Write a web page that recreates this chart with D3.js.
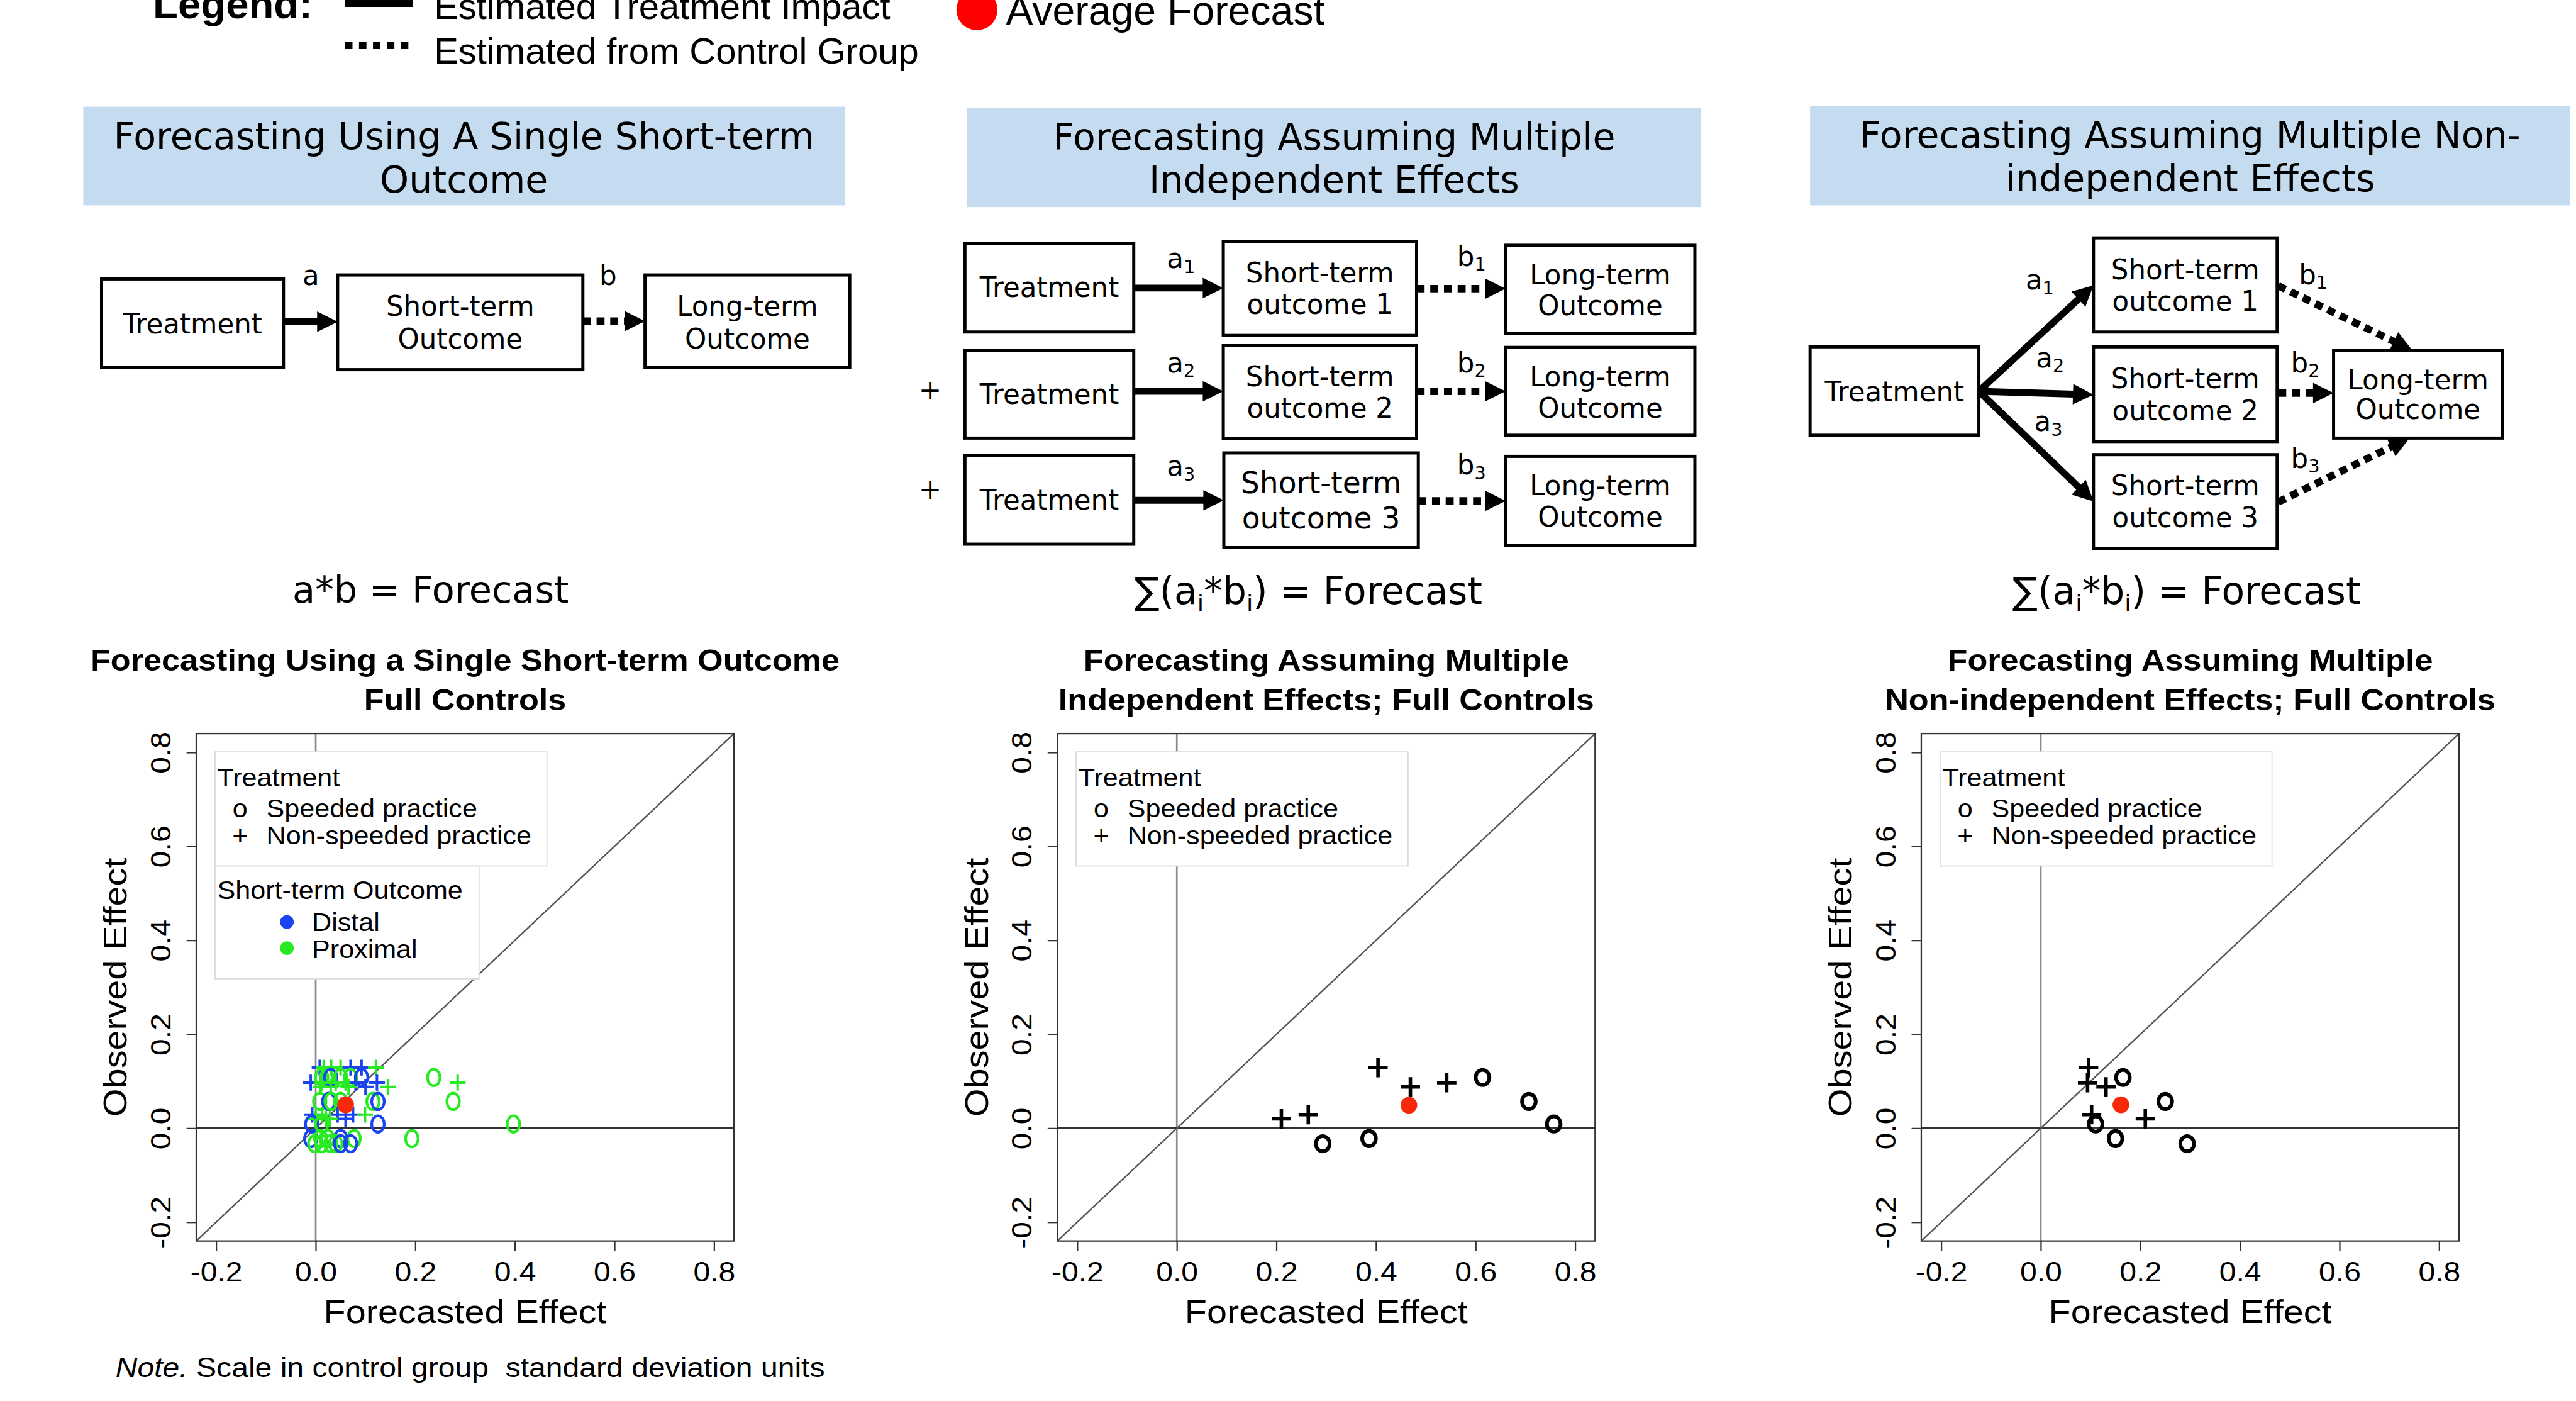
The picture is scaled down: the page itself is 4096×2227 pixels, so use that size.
<!DOCTYPE html>
<html>
<head>
<meta charset="utf-8">
<script src="https://cdn.jsdelivr.net/npm/d3@7"></script>
<style>
  html, body { margin: 0; padding: 0; background: #fff; overflow: hidden; }
</style>
</head>
<body>
<script>
// ---------------------------------------------------------------
// Data
// ---------------------------------------------------------------
const axisLimits = [-0.24, 0.84];
const tickValues = [-0.2, 0.0, 0.2, 0.4, 0.6, 0.8];
const tickLabels = ["-0.2", "0.0", "0.2", "0.4", "0.6", "0.8"];

// Ten treatment contrasts: observed long-term effect and treatment symbol
const observedEffect = [0.020, 0.029, -0.033, -0.022, 0.129, 0.088, 0.097, 0.108, 0.057, 0.009];
const treatmentPch   = ["+", "+", "o", "o", "+", "+", "+", "o", "o", "o"];

// Forecasts assuming multiple independent effects
const forecastIndependent    = [0.210, 0.264, 0.293, 0.386, 0.404, 0.469, 0.542, 0.614, 0.707, 0.757];
// Forecasts assuming multiple non-independent effects
const forecastNonIndependent = [0.210, 0.102, 0.294, 0.150, 0.096, 0.131, 0.094, 0.165, 0.250, 0.110];

// Forecasts from a single short-term outcome (one per contrast x short-term outcome)
const singleForecast = [
   0.008, 0.016, 0.031, 0.050, 0.070, 0.092, 0.121,
   0.012, 0.022, 0.030, 0.050, 0.070, 0.092, 0.237,
  -0.010, 0.012, 0.040, 0.060, 0.080, 0.123, 0.285,
   0.010, 0.030, 0.066, 0.100, 0.145,
   0.008, 0.026, 0.031, 0.050, 0.115, 0.125, 0.276,
  -0.007, 0.013, 0.044, 0.075, 0.099,
   0.000, 0.020, 0.029, 0.060,
  -0.008, 0.012, 0.125, 0.397,
  -0.010, 0.010, 0.024, 0.050, 0.077, 0.193,
  -0.002, 0.012, 0.030, 0.040, 0.050, 0.070
];
const singleObserved = [
  0.129, 0.129, 0.129, 0.129, 0.129, 0.129, 0.129,
  0.108, 0.108, 0.108, 0.108, 0.108, 0.108, 0.108,
  0.097, 0.097, 0.097, 0.097, 0.097, 0.097, 0.097,
  0.088, 0.088, 0.088, 0.088, 0.088,
  0.057, 0.057, 0.057, 0.057, 0.057, 0.057, 0.057,
  0.029, 0.029, 0.029, 0.029, 0.029,
  0.020, 0.020, 0.020, 0.020,
  0.009, 0.009, 0.009, 0.009,
  -0.022, -0.022, -0.022, -0.022, -0.022, -0.022,
  -0.033, -0.033, -0.033, -0.033, -0.033, -0.033
];
const singlePch = [
  "+","+","+","+","+","+","+",
  "o","o","o","o","o","o","o",
  "+","+","+","+","+","+","+",
  "+","+","+","+","+",
  "o","o","o","o","o","o","o",
  "+","+","+","+","+",
  "+","+","+","+",
  "o","o","o","o",
  "o","o","o","o","o","o",
  "o","o","o","o","o","o"
];
const singleOutcome = [
  "Distal","Proximal","Proximal","Proximal","Distal","Distal","Proximal",
  "Proximal","Proximal","Distal","Proximal","Proximal","Distal","Proximal",
  "Distal","Proximal","Proximal","Proximal","Distal","Distal","Proximal",
  "Proximal","Proximal","Proximal","Distal","Proximal",
  "Proximal","Distal","Proximal","Proximal","Proximal","Distal","Proximal",
  "Distal","Proximal","Distal","Distal","Proximal",
  "Proximal","Proximal","Proximal","Distal",
  "Distal","Proximal","Distal","Proximal",
  "Distal","Proximal","Proximal","Distal","Proximal","Proximal",
  "Proximal","Proximal","Proximal","Proximal","Distal","Distal"
];

// Average forecast / observed effect per panel
const averageSingle         = [0.060, 0.050];
const averageIndependent    = [0.466, 0.049];
const averageNonIndependent = [0.161, 0.050];

const outcomeNames   = ["Distal", "Proximal"];
const treatmentNames = ["Speeded practice", "Non-speeded practice"];

// ---------------------------------------------------------------
// Canvas
// ---------------------------------------------------------------
const W = 4517, H = 2456;
const SANS = "'Liberation Sans', Arial, Helvetica, sans-serif";
const VERD = "'DejaVu Sans', Verdana, sans-serif";
const outcomeColor = d3.scaleOrdinal().domain(outcomeNames).range(["#1a44f0", "#28ea22"]);
const AVG_RED = "#f8280a";

const svg = d3.select("body").append("svg")
  .attr("width", 4096).attr("height", 2227)
  .attr("viewBox", `0 0 ${W} ${H}`);
svg.append("rect").attr("width", W).attr("height", H).attr("fill", "#fff");

function label(g, x, y, str, o = {}) {
  let tf = `translate(${x},${y})`;
  if (o.rot) tf += ` rotate(${o.rot})`;
  if (o.sx) tf += ` scale(${o.sx},1)`;
  return g.append("text")
    .attr("transform", tf)
    .attr("font-family", o.family || SANS)
    .attr("font-size", o.size || 48)
    .attr("font-weight", o.weight || "normal")
    .attr("font-style", o.style || "normal")
    .attr("text-anchor", o.anchor || "start")
    .attr("fill", o.fill || "#000")
    .text(str);
}

// ---------------------------------------------------------------
// Top legend
// ---------------------------------------------------------------
const topLegend = svg.append("g");
label(topLegend, 268, 32, "Legend:", { size: 72, weight: "bold" });
topLegend.append("line").attr("x1", 605).attr("x2", 724).attr("y1", 6).attr("y2", 6)
  .attr("stroke", "#000").attr("stroke-width", 12);
topLegend.append("line").attr("x1", 605).attr("x2", 716).attr("y1", 80).attr("y2", 80)
  .attr("stroke", "#000").attr("stroke-width", 12).attr("stroke-dasharray", "13 11.5");
label(topLegend, 761, 33, "Estimated Treatment Impact", { size: 64 });
label(topLegend, 761, 111, "Estimated from Control Group", { size: 64 });
topLegend.append("circle").attr("cx", 1713).attr("cy", 17).attr("r", 36).attr("fill", "#ff0000");
label(topLegend, 1764, 43, "Average Forecast", { size: 71 });

// ---------------------------------------------------------------
// Path diagrams
// ---------------------------------------------------------------
const diag = svg.append("g");

function header(x0, y0, x1, y1, lines, baselines) {
  diag.append("rect").attr("x", x0).attr("y", y0).attr("width", x1 - x0).attr("height", y1 - y0)
    .attr("fill", "#c5dbef");
  lines.forEach((s, i) => label(diag, (x0 + x1) / 2, baselines[i], s,
    { family: VERD, size: 64.6, anchor: "middle" }));
}

function node(b, lines, baselines, size = 48) {
  diag.append("rect").attr("x", b[0]).attr("y", b[1]).attr("width", b[2] - b[0]).attr("height", b[3] - b[1])
    .attr("fill", "#fff").attr("stroke", "#000").attr("stroke-width", 5.5);
  lines.forEach((s, i) => label(diag, (b[0] + b[2]) / 2, baselines[i], s,
    { family: VERD, size, anchor: "middle" }));
}

function arrow(x1, y1, x2, y2, dotted) {
  const dx = x2 - x1, dy = y2 - y1, L = Math.hypot(dx, dy), ux = dx / L, uy = dy / L;
  const HL = 36, HW = 18;
  const bx = x2 - ux * HL, by = y2 - uy * HL;
  diag.append("line").attr("x1", x1).attr("y1", y1).attr("x2", bx + ux).attr("y2", by + uy)
    .attr("stroke", "#000").attr("stroke-width", dotted ? 13 : 12)
    .attr("stroke-dasharray", dotted ? "14 10" : null);
  diag.append("path")
    .attr("d", `M${x2},${y2}L${bx - uy * HW},${by + ux * HW}L${bx + uy * HW},${by - ux * HW}Z`)
    .attr("fill", "#000");
}

function coef(x, y, base, sub, size = 48) {
  const t = diag.append("text").attr("x", x).attr("y", y)
    .attr("font-family", VERD).attr("font-size", size);
  t.append("tspan").text(base);
  if (sub) t.append("tspan").attr("font-size", size * 0.66).attr("dy", size * 0.17).text(sub);
}

function formula(cx, y, parts, size = 64) {
  const t = diag.append("text").attr("x", cx).attr("y", y)
    .attr("font-family", VERD).attr("font-size", size).attr("text-anchor", "middle");
  let shifted = false;
  parts.forEach(p => {
    const sp = t.append("tspan").text(p.s);
    if (p.sub) { sp.attr("font-size", size * 0.62).attr("dy", size * 0.2); shifted = true; }
    else if (shifted) { sp.attr("dy", -size * 0.2); shifted = false; }
  });
}

// Panel 1: single short-term outcome
header(146, 187, 1481, 360, ["Forecasting Using A Single Short-term", "Outcome"], [261, 337]);
node([178, 489, 497, 644], ["Treatment"], [585]);
node([592, 482, 1022, 648], ["Short-term", "Outcome"], [554, 611]);
node([1131, 482, 1490, 644], ["Long-term", "Outcome"], [554, 611]);
arrow(497, 564, 592, 564, false);
arrow(1022, 563, 1131, 563, true);
label(diag, 545, 500, "a", { family: VERD, size: 48, anchor: "middle" });
label(diag, 1066, 500, "b", { family: VERD, size: 48, anchor: "middle" });
formula(755, 1056, [{ s: "a*b = Forecast" }], 65);

// Panel 2: multiple independent effects
header(1696, 189, 2983, 363, ["Forecasting Assuming Multiple", "Independent Effects"], [262, 338]);
const rowsIndep = [
  { t: [1692, 427, 1988, 582], tb: 521, s: [2145, 423, 2484, 588], sb: [495.5, 550], l: [2640, 430, 2972, 585], lb: [498.5, 553],
    ay: 505, by: 506, la: 470, lb2: 466, n: "1", size: 48 },
  { t: [1692, 614, 1988, 768], tb: 707.5, s: [2145, 606, 2484, 769], sb: [677, 732], l: [2640, 609, 2972, 763], lb: [677, 732],
    ay: 686, by: 686, la: 653, lb2: 653, n: "2", size: 48 },
  { t: [1692, 798, 1988, 954], tb: 893, s: [2146, 794, 2487, 960], sb: [865, 926], l: [2640, 800, 2972, 956], lb: [868, 923],
    ay: 877, by: 878, la: 834, lb2: 832, n: "3", size: 52 }
];
rowsIndep.forEach(r => {
  node(r.t, ["Treatment"], [r.tb]);
  node(r.s, ["Short-term", "outcome " + r.n], r.sb, r.size);
  node(r.l, ["Long-term", "Outcome"], r.lb);
  arrow(r.t[2], r.ay, r.s[0], r.ay, false);
  arrow(r.s[2], r.by, r.l[0], r.by, true);
  coef(2046, r.la, "a", r.n);
  coef(2555, r.lb2, "b", r.n);
});
label(diag, 1631, 700, "+", { family: VERD, size: 48, anchor: "middle" });
label(diag, 1631, 875, "+", { family: VERD, size: 48, anchor: "middle" });
formula(2294, 1059, [{ s: "\u2211(a" }, { s: "i", sub: true }, { s: "*b" }, { s: "i", sub: true }, { s: ") = Forecast" }], 66);

// Panel 3: multiple non-independent effects
header(3174, 186, 4507, 360, ["Forecasting Assuming Multiple Non-", "independent Effects"], [259, 335]);
node([3174, 608, 3470, 763], ["Treatment"], [704]);
node([3671, 417, 3993, 582], ["Short-term", "outcome 1"], [489.4, 545]);
node([3671, 608, 3993, 774], ["Short-term", "outcome 2"], [680, 736.7]);
node([3671, 797, 3993, 962], ["Short-term", "outcome 3"], [868, 924.5]);
node([4092, 614, 4388, 768], ["Long-term", "Outcome"], [683, 735]);
arrow(3470, 686, 3671, 500, false);
arrow(3470, 686, 3671, 692, false);
arrow(3470, 686, 3671, 879, false);
arrow(3995, 501, 4230, 614, true);
arrow(3995, 689, 4092, 689, true);
arrow(3995, 880, 4225, 768, true);
coef(3552, 507.6, "a", "1");
coef(3570, 644, "a", "2");
coef(3567, 756, "a", "3");
coef(4031, 498.5, "b", "1");
coef(4017, 653, "b", "2");
coef(4017, 820, "b", "3");
formula(3834, 1059, [{ s: "\u2211(a" }, { s: "i", sub: true }, { s: "*b" }, { s: "i", sub: true }, { s: ") = Forecast" }], 66);

// ---------------------------------------------------------------
// Scatter panels
// ---------------------------------------------------------------
const PT = 1286, PB = 2175.5, PW = 943;
const SX = 1.1;  // horizontal text stretch used by the plot text

function scatterPanel(cfg) {
  const g = svg.append("g");
  const left = cfg.left, right = left + PW;
  const x = d3.scaleLinear().domain(axisLimits).range([left, right]);
  const y = d3.scaleLinear().domain(axisLimits).range([PB, PT]);
  const cx = (left + right) / 2, cy = (PT + PB) / 2;

  // title
  cfg.title.forEach((s, i) => label(g, cx, [1176, 1245][i], s,
    { size: 52.3, weight: "bold", anchor: "middle", sx: SX }));

  // clipped reference lines
  const clipId = "clip" + cfg.id;
  g.append("clipPath").attr("id", clipId).append("rect")
    .attr("x", left).attr("y", PT).attr("width", PW).attr("height", PB - PT);
  const inner = g.append("g").attr("clip-path", `url(#${clipId})`);
  inner.append("line").attr("x1", x(0)).attr("x2", x(0)).attr("y1", PT).attr("y2", PB)
    .attr("stroke", "#8c8c8c").attr("stroke-width", 3);
  inner.append("line").attr("x1", left).attr("x2", right).attr("y1", y(0)).attr("y2", y(0))
    .attr("stroke", "#333").attr("stroke-width", 3);
  inner.append("line").attr("x1", x(axisLimits[0])).attr("y1", y(axisLimits[0]))
    .attr("x2", x(axisLimits[1])).attr("y2", y(axisLimits[1]))
    .attr("stroke", "#555").attr("stroke-width", 2.6);

  // legend(s)
  const lg = g.append("g");
  lg.append("rect").attr("x", left + 33).attr("y", 1318).attr("width", 582).attr("height", 200)
    .attr("fill", "#fff").attr("stroke", "#dcdcdc").attr("stroke-width", 2);
  const LS = { size: 44, sx: 1.08 };
  label(lg, left + 37, 1378.5, "Treatment", LS);
  label(lg, left + 77, 1433, "o", { ...LS, anchor: "middle" });
  label(lg, left + 123, 1433, treatmentNames[0], LS);
  label(lg, left + 77, 1480.5, "+", { ...LS, anchor: "middle" });
  label(lg, left + 123, 1480.5, treatmentNames[1], LS);
  if (cfg.colored) {
    lg.append("rect").attr("x", left + 33).attr("y", 1518).attr("width", 463).attr("height", 198)
      .attr("fill", "#fff").attr("stroke", "#dcdcdc").attr("stroke-width", 2);
    label(lg, left + 37, 1575.6, "Short-term Outcome", LS);
    outcomeNames.forEach((nm, i) => {
      lg.append("circle").attr("cx", left + 159).attr("cy", [1616.3, 1662.1][i]).attr("r", 12)
        .attr("fill", outcomeColor(nm));
      label(lg, left + 203, [1632, 1679.4][i], nm, LS);
    });
  }

  // points
  const pts = cfg.fx.map((v, i) => ({ fx: v, oy: cfg.oy[i], pch: cfg.pch[i], col: cfg.col ? outcomeColor(cfg.col[i]) : "#000" }));
  const sym = cfg.colored
    ? { rx: 11, ry: 14.5, ow: 4.6, ph: 14, pw: 4.4 }
    : { rx: 12, ry: 13.4, ow: 6.5, ph: 17, pw: 6.2 };
  g.append("g").selectAll("g").data(pts).join("g")
    .attr("transform", d => `translate(${x(d.fx)},${y(d.oy)})`)
    .each(function (d) {
      const s = d3.select(this);
      if (d.pch === "o") {
        s.append("ellipse").attr("rx", sym.rx).attr("ry", sym.ry)
          .attr("fill", "none").attr("stroke", d.col).attr("stroke-width", sym.ow);
      } else {
        s.append("path").attr("d", `M${-sym.ph},0H${sym.ph}M0,${-sym.ph}V${sym.ph}`)
          .attr("stroke", d.col).attr("stroke-width", sym.pw).attr("fill", "none");
      }
    });

  // average forecast
  g.append("circle").attr("cx", x(cfg.avg[0])).attr("cy", y(cfg.avg[1])).attr("r", 14.7)
    .attr("fill", AVG_RED);

  // plot frame
  g.append("rect").attr("x", left).attr("y", PT).attr("width", PW).attr("height", PB - PT)
    .attr("fill", "none").attr("stroke", "#333").attr("stroke-width", 2.5);

  // axes
  const fmt = d => tickLabels[tickValues.indexOf(d)];
  const xa = g.append("g").attr("transform", `translate(0,${PB})`)
    .call(d3.axisBottom(x).tickValues(tickValues).tickFormat(fmt).tickSize(17).tickSizeOuter(0));
  const ya = g.append("g").attr("transform", `translate(${left},0)`)
    .call(d3.axisLeft(y).tickValues(tickValues).tickFormat(fmt).tickSize(17).tickSizeOuter(0));
  [xa, ya].forEach(a => {
    a.select(".domain").remove();
    a.selectAll(".tick line").attr("stroke", "#333").attr("stroke-width", 2.5);
    a.selectAll(".tick text").attr("font-family", SANS).attr("font-size", 48.2).attr("fill", "#000");
  });
  xa.selectAll(".tick text").attr("y", 0).attr("dy", null)
    .attr("transform", `translate(0,70.5) scale(${SX},1)`);
  ya.selectAll(".tick text").attr("x", 0).attr("dy", null).attr("text-anchor", "middle")
    .attr("transform", `translate(-45.5,0) rotate(-90) scale(${SX},1)`);

  label(g, cx, 2319, "Forecasted Effect", { size: 57.7, anchor: "middle", sx: SX });
  label(g, left - 122, cy, "Observed Effect", { size: 57.7, anchor: "middle", rot: -90, sx: SX });
}

scatterPanel({
  id: 1, left: 344, colored: true,
  title: ["Forecasting Using a Single Short-term Outcome", "Full Controls"],
  fx: singleForecast, oy: singleObserved, pch: singlePch, col: singleOutcome,
  avg: averageSingle
});
scatterPanel({
  id: 2, left: 1854, colored: false,
  title: ["Forecasting Assuming Multiple", "Independent Effects; Full Controls"],
  fx: forecastIndependent, oy: observedEffect, pch: treatmentPch,
  avg: averageIndependent
});
scatterPanel({
  id: 3, left: 3369, colored: false,
  title: ["Forecasting Assuming Multiple", "Non-independent Effects; Full Controls"],
  fx: forecastNonIndependent, oy: observedEffect, pch: treatmentPch,
  avg: averageNonIndependent
});

// footnote
const note = svg.append("text")
  .attr("transform", `translate(202.6,2414.5) scale(${SX},1)`)
  .attr("font-family", SANS).attr("font-size", 48.2)
  .style("white-space", "pre");
note.append("tspan").attr("font-style", "italic").text("Note.");
note.append("tspan").text(" Scale in control group  standard deviation units");
</script>
</body>
</html>
